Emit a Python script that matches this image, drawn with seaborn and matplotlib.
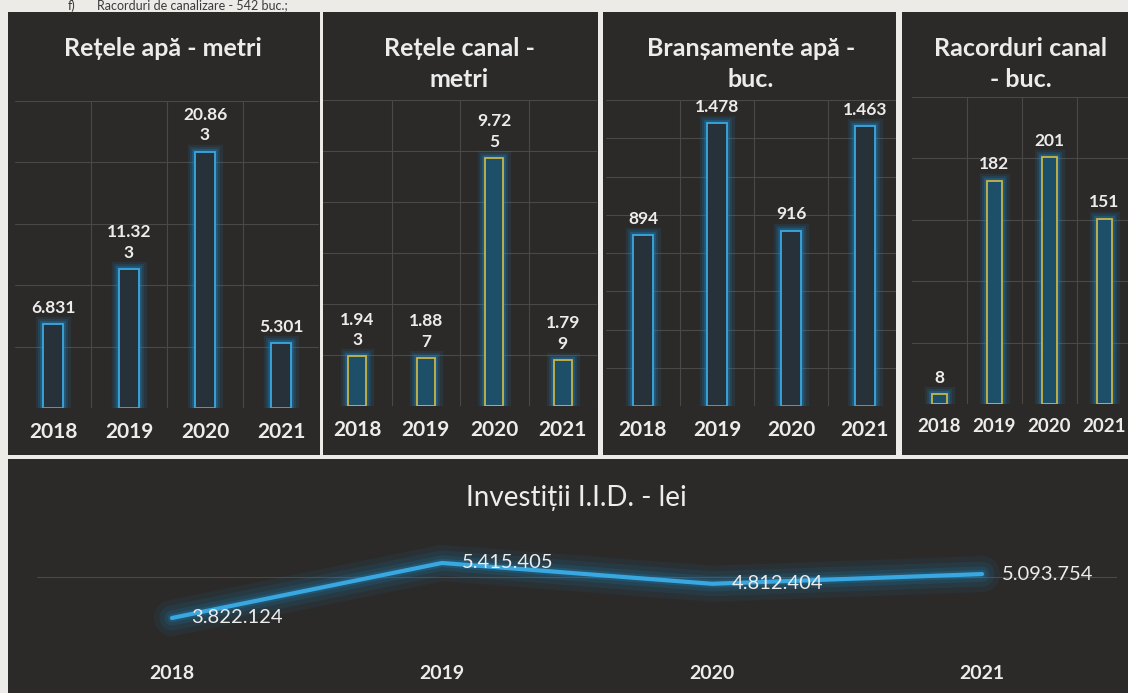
import pandas as pd
import seaborn as sns
import matplotlib.pyplot as plt
import matplotlib.patheffects as pe
from matplotlib.patches import Rectangle
from matplotlib.ticker import MultipleLocator

# Data
years = ['2018', '2019', '2020', '2021']

retele_apa = [6831, 11323, 20863, 5301]
retele_apa_labels = ['6.831', '11.32\n3', '20.86\n3', '5.301']
retele_canal = [1943, 1887, 9725, 1799]
retele_canal_labels = ['1.94\n3', '1.88\n7', '9.72\n5', '1.79\n9']
bransamente_apa = [894, 1478, 916, 1463]
bransamente_labels = ['894', '1.478', '916', '1.463']
racorduri_canal = [8, 182, 201, 151]
racorduri_labels = ['8', '182', '201', '151']
investitii = [3822124, 5415405, 4812404, 5093754]
investitii_labels = ['3.822.124', '5.415.405', '4.812.404', '5.093.754']

W, H = 1128, 693
BG = '#2b2a29'
PAGE = '#ecebe8'
BLUE = '#3aa8e0'
GLOW = '#1c84c0'
YELLOW = '#c8b447'
TEAL = '#1d5068'
DARKFILL = '#26313a'
TXT = '#ececec'
GRID = '#4a4948'

sns.set_theme(style='dark')
plt.rcParams['font.family'] = ['Lato', 'DejaVu Sans']

fig = plt.figure(figsize=(W / 100, H / 100), dpi=100)
fig.patch.set_facecolor(PAGE)


def fbox(x0, y0, x1, y1):
    """pixel box (top-left origin) -> figure fraction rect"""
    return [x0 / W, 1 - y1 / H, (x1 - x0) / W, (y1 - y0) / H]


def glow(lws, alphas):
    effects = [pe.Stroke(linewidth=lw, foreground=GLOW, alpha=a) for lw, a in zip(lws, alphas)]
    return effects + [pe.Normal()]


# dark panels
panels = [(8, 12, 320, 455), (323, 12, 598, 455), (603, 12, 896, 455),
          (902, 12, 1128, 455), (8, 459, 1128, 693)]
for x0, y0, x1, y1 in panels:
    fig.patches.append(Rectangle((x0 / W, 1 - y1 / H), (x1 - x0) / W, (y1 - y0) / H,
                                 transform=fig.transFigure, facecolor=BG,
                                 edgecolor='none', zorder=-5))

# line of the document text above the charts
fig.text(68 / W, 1 - 5.5 / H, 'f)', ha='left', va='center', fontsize=9, color='#3a3a3a')
fig.text(97 / W, 1 - 5.5 / H, 'Racorduri de canalizare - 542 buc.;', ha='left', va='center',
         fontsize=9, color='#3a3a3a')


def bar_panel(vals, labels, title, tx, box, xmax, ymax, step, edge, face, yearsize=15):
    ax = fig.add_axes(fbox(*box))
    df = pd.DataFrame({'year': years, 'value': vals})
    sns.barplot(data=df, x='year', y='value', ax=ax, width=0.27, color=face,
                edgecolor=edge, linewidth=1.3, saturation=1)
    for p in ax.patches:
        p.set_path_effects(glow([11, 7, 4], [0.12, 0.2, 0.35]))

    ax.set_facecolor('none')
    ax.set_xlim(-0.5, xmax)
    ax.set_ylim(0, ymax)
    ax.yaxis.set_major_locator(MultipleLocator(step))
    ax.set_xticks([0.5, 1.5, 2.5], minor=True)
    ax.set_axisbelow(True)
    ax.grid(False)
    ax.grid(True, axis='y', which='major', color=GRID, lw=0.8)
    ax.grid(True, axis='x', which='minor', color=GRID, lw=0.8)
    ax.set_yticklabels([])
    ax.tick_params(axis='y', which='both', length=0)
    ax.tick_params(axis='x', which='both', length=0, pad=10, labelsize=yearsize, labelcolor=TXT)
    for t in ax.get_xticklabels():
        t.set_fontweight('bold')
    sns.despine(ax=ax, left=True, bottom=True)
    ax.set_xlabel('')
    ax.set_ylabel('')

    for i, (v, lab) in enumerate(zip(vals, labels)):
        ax.annotate(lab, (i, v), xytext=(0, 6), textcoords='offset points', ha='center',
                    va='bottom', color=TXT, fontsize=12.5, fontweight='bold',
                    linespacing=1.35, annotation_clip=False)

    fig.text(tx / W, 1 - 37 / H, title, ha='center', va='top', color=TXT, fontsize=18,
             fontweight='bold', linespacing=1.4)
    return ax


bar_panel(retele_apa, retele_apa_labels, 'Rețele apă - metri', 163,
          (15, 101, 319, 408), 3.5, 25000, 5000, BLUE, DARKFILL)
bar_panel(retele_canal, retele_canal_labels, 'Rețele canal -\nmetri', 459,
          (323, 100, 597, 406), 3.5, 12000, 2000, YELLOW, TEAL)
bar_panel(bransamente_apa, bransamente_labels, 'Branșamente apă -\nbuc.', 751,
          (606, 100, 896, 406), 3.42, 1600, 200, BLUE, DARKFILL)
bar_panel(racorduri_canal, racorduri_labels, 'Racorduri canal\n- buc.', 1021,
          (912, 97, 1128, 404), 3.43, 250, 50, YELLOW, TEAL, yearsize=13.5)

# line chart
ax = fig.add_axes(fbox(37, 520, 1117, 655))
df = pd.DataFrame({'year': years, 'value': investitii})
sns.lineplot(data=df, x='year', y='value', ax=ax, color=BLUE, linewidth=3)
for ln in ax.lines:
    ln.set_path_effects(glow([26, 18, 11, 6], [0.08, 0.11, 0.15, 0.25]))
ax.set_facecolor('none')
ax.set_xlim(-0.5, 3.5)
ax.set_ylim(2.75e6, 6.66e6)
ax.set_yticks([5e6])
ax.set_yticklabels([])
ax.grid(False)
ax.grid(True, axis='y', color=GRID, lw=0.8)
ax.tick_params(axis='y', length=0)
ax.tick_params(axis='x', length=0, pad=7, labelsize=14, labelcolor=TXT)
for t in ax.get_xticklabels():
    t.set_fontweight('bold')
sns.despine(ax=ax, left=True, bottom=True)
ax.set_xlabel('')
ax.set_ylabel('')
for i, (v, lab) in enumerate(zip(investitii, investitii_labels)):
    ax.annotate(lab, (i, v), xytext=(14, 0), textcoords='offset points', ha='left',
                va='center', color=TXT, fontsize=14.5, annotation_clip=False)

fig.text(576 / W, 1 - 498 / H, 'Investiții I.I.D. - lei', ha='center', va='center',
         color=TXT, fontsize=20)

fig.savefig('out.png', dpi=100, facecolor=fig.get_facecolor())
